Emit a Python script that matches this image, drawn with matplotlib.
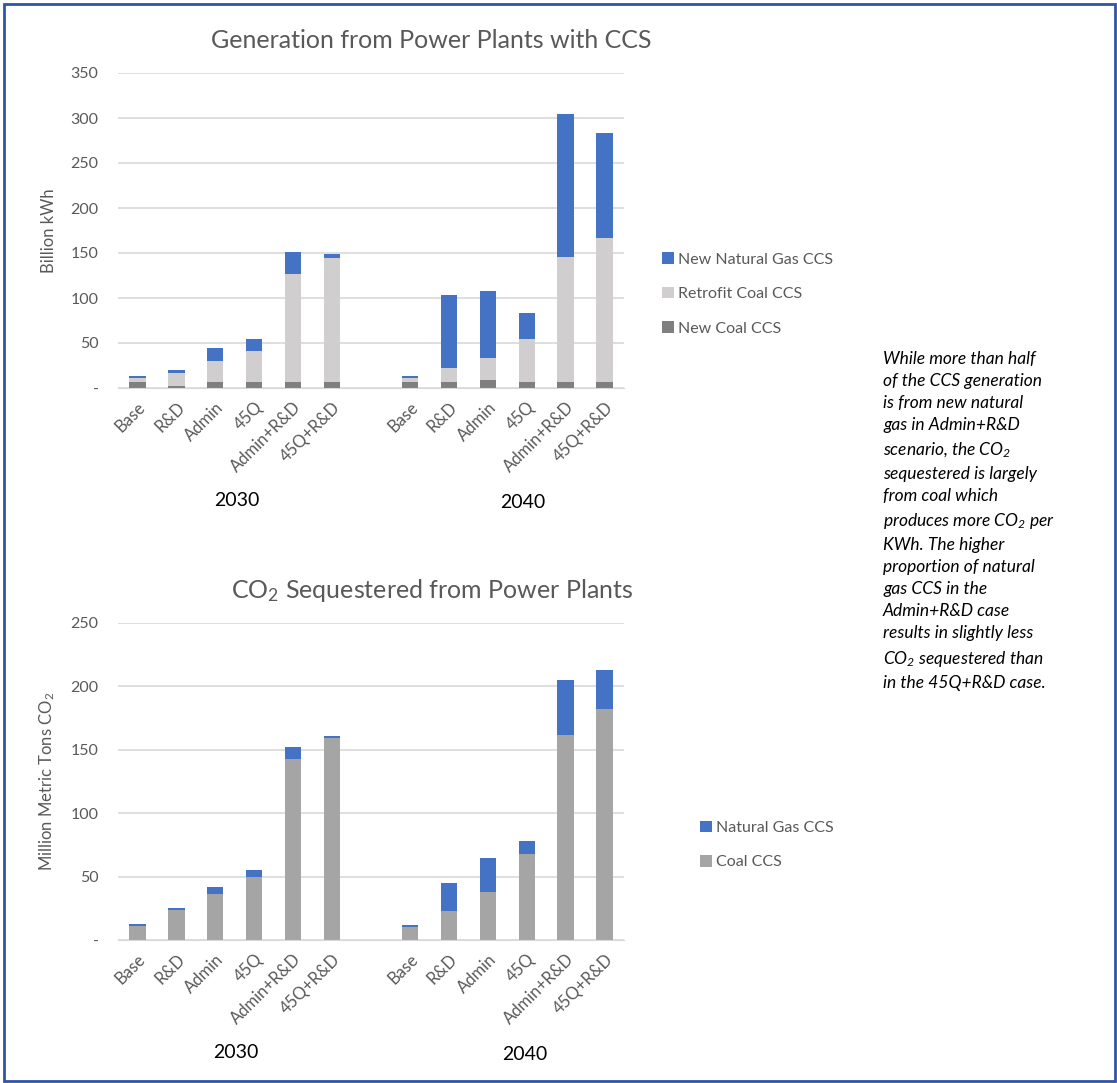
import numpy as np
import matplotlib
matplotlib.use("Agg")
import matplotlib.pyplot as plt
from matplotlib.patches import Rectangle

plt.rcParams['font.family'] = ['Lato', 'DejaVu Sans']
plt.rcParams['mathtext.fontset'] = 'custom'
plt.rcParams['mathtext.rm'] = 'Lato'
plt.rcParams['mathtext.it'] = 'Lato:italic'

# scenarios, shown once for 2030 and once for 2040
scenarios = ['Base', 'R&D', 'Admin', '45Q', 'Admin+R&D', '45Q+R&D']
years = ['2030', '2040']

# generation (billion kWh), 2030 then 2040
new_coal = [7, 2, 7, 7, 7, 7, 7, 7, 9, 7, 7, 7]
retrofit_coal = [4, 15, 23, 34, 120, 137, 4, 15, 24, 47, 139, 160]
new_gas = [2, 3, 15, 13, 24, 5, 2, 81, 75, 29, 158, 116]

# CO2 sequestered (million metric tons), 2030 then 2040
coal_seq = [11, 24, 36, 50, 143, 159, 10, 23, 38, 68, 162, 182]
gas_seq = [1.6, 1.6, 6, 5, 9, 2, 1.6, 22, 27, 10, 43, 31]

c_gas = '#4472C4'
c_retro = '#D0CECE'
c_newcoal = '#7F7F7F'
c_coal = '#A5A5A5'
txt_gray = '#595959'

# 6 bars, a blank slot, 6 bars
x = np.r_[np.arange(6), np.arange(7, 13)]
labels = scenarios * 2

fig = plt.figure(figsize=(11.17, 10.83), dpi=100)
W, H = 1117, 1083


def fx(px):
    return px / W


def fy(py):
    return 1 - py / H


ax1 = fig.add_axes([fx(118), fy(388), fx(624) - fx(118), fy(73) - fy(388)])
ax2 = fig.add_axes([fx(118), fy(940), fx(624) - fx(118), fy(623) - fy(940)])


def style(ax, ymax, step):
    ax.set_xlim(-0.5, 12.5)
    ax.set_ylim(0, ymax)
    ticks = np.arange(0, ymax + 1, step)
    ax.set_yticks(ticks)
    ax.set_yticklabels(['-'] + [str(t) for t in ticks[1:]], color=txt_gray, fontsize=11.5)
    ax.set_xticks(x)
    ax.set_xticklabels(labels, rotation=45, ha='right', rotation_mode='anchor',
                       color=txt_gray, fontsize=12)
    ax.tick_params(length=0, pad=8)
    ax.tick_params(axis='y', pad=14)
    for s in ['top', 'right', 'left']:
        ax.spines[s].set_visible(False)
    ax.spines['bottom'].set_color('#D9D9D9')
    ax.yaxis.grid(True, color='#D9D9D9', linewidth=1.2)
    ax.set_axisbelow(True)


w = 0.42
b1 = ax1.bar(x, new_coal, w, color=c_newcoal, label='New Coal CCS')
b2 = ax1.bar(x, retrofit_coal, w, bottom=new_coal, color=c_retro, label='Retrofit Coal CCS')
bottom_gas = np.array(new_coal) + np.array(retrofit_coal)
b3 = ax1.bar(x, new_gas, w, bottom=bottom_gas, color=c_gas, label='New Natural Gas CCS')
style(ax1, 350, 50)
ax1.set_ylabel('Billion kWh', color=txt_gray, fontsize=12, labelpad=10)
ax1.set_title('Generation from Power Plants with CCS', color=txt_gray, fontsize=18, pad=18,
              x=0.62)

d1 = ax2.bar(x, coal_seq, w, color=c_coal, label='Coal CCS')
d2 = ax2.bar(x, gas_seq, w, bottom=coal_seq, color=c_gas, label='Natural Gas CCS')
style(ax2, 250, 50)
ax2.set_ylabel(r'Million Metric Tons CO$\mathregular{_2}$', color=txt_gray, fontsize=12,
               labelpad=10)
ax2.set_title(r'CO$\mathregular{_2}$ Sequestered from Power Plants', color=txt_gray,
              fontsize=18, pad=18, x=0.62)

fig.legend([b3, b2, b1], ['New Natural Gas CCS', 'Retrofit Coal CCS', 'New Coal CCS'],
           loc='center left', bbox_to_anchor=(fx(662), fy(294)), frameon=False,
           fontsize=11.5, handlelength=0.75, handleheight=0.75, handletextpad=0.25,
           labelspacing=1.25, borderpad=0, borderaxespad=0, labelcolor=txt_gray)
fig.legend([d2, d1], ['Natural Gas CCS', 'Coal CCS'],
           loc='center left', bbox_to_anchor=(fx(700), fy(845)), frameon=False,
           fontsize=11.5, handlelength=0.75, handleheight=0.75, handletextpad=0.25,
           labelspacing=1.25, borderpad=0, borderaxespad=0, labelcolor=txt_gray)

# year labels under each group
fig.text(fx(237), fy(500), years[0], fontsize=14, ha='center', va='center')
fig.text(fx(523), fy(503), years[1], fontsize=14, ha='center', va='center')
fig.text(fx(236), fy(1053), years[0], fontsize=14, ha='center', va='center')
fig.text(fx(525), fy(1055), years[1], fontsize=14, ha='center', va='center')

note = ('While more than half\n'
        'of the CCS generation\n'
        'is from new natural\n'
        'gas in Admin+R&D\n'
        r'scenario, the CO$\mathregular{_2}$' '\n'
        'sequestered is largely\n'
        'from coal which\n'
        r'produces more CO$\mathregular{_2}$ per' '\n'
        'KWh. The higher\n'
        'proportion of natural\n'
        'gas CCS in the\n'
        'Admin+R&D case\n'
        'results in slightly less\n'
        r'CO$\mathregular{_2}$ sequestered than' '\n'
        'in the 45Q+R&D case.')
fig.text(fx(883), fy(351), note, fontsize=12.5, style='italic', ha='left', va='top',
         linespacing=1.47)

fig.patches.append(Rectangle((fx(4), fy(1081)), fx(1111), fy(4) - fy(1081),
                             transform=fig.transFigure, fill=False,
                             edgecolor='#2F55A4', linewidth=2))

fig.savefig('out.png', dpi=100)
